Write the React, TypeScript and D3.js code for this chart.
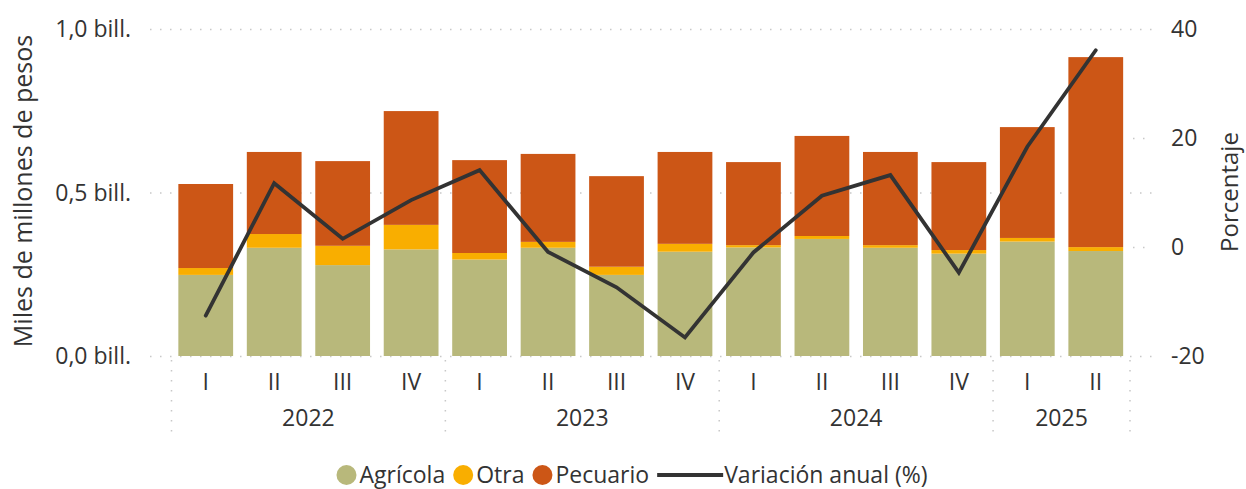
import React, { useEffect, useRef } from "react";
import * as d3 from "d3";

const years = ["2022", "2022", "2022", "2022", "2023", "2023", "2023", "2023", "2024", "2024", "2024", "2024", "2025", "2025"];
const quarters = ["I", "II", "III", "IV", "I", "II", "III", "IV", "I", "II", "III", "IV", "I", "II"];
const agricola = [0.248, 0.331, 0.278, 0.326, 0.295, 0.331, 0.248, 0.319, 0.332, 0.358, 0.331, 0.313, 0.350, 0.321];
const otra = [0.021, 0.042, 0.059, 0.075, 0.020, 0.018, 0.025, 0.024, 0.007, 0.009, 0.008, 0.011, 0.011, 0.012];
const pecuario = [0.257, 0.251, 0.259, 0.348, 0.284, 0.269, 0.277, 0.281, 0.254, 0.306, 0.285, 0.269, 0.339, 0.581];
const variacion = [-12.6, 11.7, 1.5, 8.6, 14.1, -0.9, -7.4, -16.6, -1.0, 9.4, 13.2, -4.7, 18.4, 36.1];
const leftTicks = [0, 0.5, 1.0];
const leftTickLabels = ["0,0 bill.", "0,5 bill.", "1,0 bill."];
const rightTicks = [-20, 0, 20, 40];

const seriesNames = ["Agrícola", "Otra", "Pecuario"];
const colors = ["#B8B87B", "#F9AE00", "#CC5616"];
const FONT = "'Segoe UI', 'Open Sans', sans-serif";
const TEXT = "#333333";

const App = () => {
  const svgRef = useRef<SVGSVGElement>(null);

  useEffect(() => {
    const svg = d3.select(svgRef.current);
    svg.selectAll("*").remove();

    const keys = quarters.map((q, i) => `${years[i]}-${q}-${i}`);
    const x = d3.scaleBand().domain(keys).range([171.5, 1130]).paddingInner(0.2).paddingOuter(0.1);
    const y = d3.scaleLinear().domain([0, 1]).range([356, 29]);
    const y2 = d3.scaleLinear().domain([-20, 40]).range([356, 29]);

    // gridlines (left axis)
    svg.append("g")
      .selectAll("line")
      .data(leftTicks)
      .join("line")
      .attr("x1", 150).attr("x2", 1152)
      .attr("y1", d => y(d) + 0.5).attr("y2", d => y(d) + 0.5)
      .attr("stroke", "#C8C8C8").attr("stroke-width", 1.5)
      .attr("stroke-dasharray", "1.5,8.5");

    // short stubs for right axis ticks
    svg.append("g")
      .selectAll("line")
      .data([0, 20])
      .join("line")
      .attr("x1", 1133).attr("x2", 1152)
      .attr("y1", d => y2(d) + 0.5).attr("y2", d => y2(d) + 0.5)
      .attr("stroke", "#C8C8C8").attr("stroke-width", 1.5)
      .attr("stroke-dasharray", "1.5,8.5");

    // stacked bars
    const rows = keys.map((k, i) => ({ key: k, "Agrícola": agricola[i], "Otra": otra[i], "Pecuario": pecuario[i] }));
    const stacked = d3.stack<any>().keys(seriesNames)(rows);
    svg.append("g")
      .selectAll("g")
      .data(stacked)
      .join("g")
      .attr("fill", (_, i) => colors[i])
      .selectAll("rect")
      .data(d => d)
      .join("rect")
      .attr("x", d => x(d.data.key)!)
      .attr("width", x.bandwidth())
      .attr("y", d => y(d[1]))
      .attr("height", d => y(d[0]) - y(d[1]));

    // line
    const line = d3.line<number>()
      .x((_, i) => x(keys[i])! + x.bandwidth() / 2)
      .y(d => y2(d));
    svg.append("path")
      .datum(variacion)
      .attr("fill", "none")
      .attr("stroke", "#333333")
      .attr("stroke-width", 3.8)
      .attr("stroke-linecap", "round")
      .attr("d", line);

    // left tick labels
    svg.append("g")
      .selectAll("text")
      .data(leftTicks)
      .join("text")
      .attr("x", 131).attr("y", d => y(d))
      .attr("dy", "0.35em")
      .attr("text-anchor", "end")
      .attr("font-family", FONT).attr("font-size", 23).attr("fill", TEXT)
      .text((_, i) => leftTickLabels[i]);

    // right tick labels
    svg.append("g")
      .selectAll("text")
      .data(rightTicks)
      .join("text")
      .attr("x", 1171).attr("y", d => y2(d))
      .attr("dy", "0.35em")
      .attr("font-family", FONT).attr("font-size", 23).attr("fill", TEXT)
      .text(d => String(d));

    // axis titles
    svg.append("text")
      .attr("transform", "translate(23,191) rotate(-90)")
      .attr("text-anchor", "middle").attr("dy", "0.35em")
      .attr("font-family", FONT).attr("font-size", 25).attr("fill", TEXT)
      .text("Miles de millones de pesos");
    svg.append("text")
      .attr("transform", "translate(1238,192) rotate(-90)")
      .attr("text-anchor", "middle")
      .attr("font-family", FONT).attr("font-size", 24).attr("fill", TEXT)
      .text("Porcentaje");

    // quarter labels
    svg.append("g")
      .selectAll("text")
      .data(keys)
      .join("text")
      .attr("x", d => x(d)! + x.bandwidth() / 2)
      .attr("y", 382).attr("dy", "0.35em")
      .attr("text-anchor", "middle")
      .attr("font-family", FONT).attr("font-size", 23).attr("fill", TEXT)
      .text((_, i) => quarters[i]);

    // year groups
    const yearList = Array.from(new Set(years));
    const step = x.step();
    const groups = yearList.map(yr => {
      const idx = years.map((v, i) => (v === yr ? i : -1)).filter(i => i >= 0);
      const x0 = x(keys[idx[0]])! - (step - x.bandwidth()) / 2;
      const x1 = x(keys[idx[idx.length - 1]])! + x.bandwidth() + (step - x.bandwidth()) / 2;
      return { yr, x0, x1 };
    });
    groups[0].x0 = 171.5;
    groups[groups.length - 1].x1 = 1130;

    const sepX = [groups[0].x0, ...groups.map(g => g.x1)];
    svg.append("g")
      .selectAll("line")
      .data(sepX)
      .join("line")
      .attr("x1", d => d).attr("x2", d => d)
      .attr("y1", 360).attr("y2", 440)
      .attr("stroke", "#C8C8C8").attr("stroke-width", 1.5)
      .attr("stroke-dasharray", "1.5,8.5");

    svg.append("g")
      .selectAll("text")
      .data(groups)
      .join("text")
      .attr("x", d => (d.x0 + d.x1) / 2)
      .attr("y", 418).attr("dy", "0.35em")
      .attr("text-anchor", "middle")
      .attr("font-family", FONT).attr("font-size", 23).attr("fill", TEXT)
      .text(d => d.yr);

    // legend
    const legend = svg.append("g");
    let cx = 0;
    const ly = 475;
    seriesNames.forEach((name, i) => {
      legend.append("circle").attr("cx", cx + 10).attr("cy", ly).attr("r", 10).attr("fill", colors[i]);
      const t = legend.append("text")
        .attr("x", cx + 23).attr("y", ly).attr("dy", "0.35em")
        .attr("font-family", FONT).attr("font-size", 23).attr("fill", TEXT)
        .text(name);
      cx += 23 + (t.node() as SVGTextElement).getComputedTextLength() + 8;
    });
    legend.append("line")
      .attr("x1", cx).attr("x2", cx + 66)
      .attr("y1", ly).attr("y2", ly)
      .attr("stroke", "#333333").attr("stroke-width", 3.8);
    const lt = legend.append("text")
      .attr("x", cx + 67).attr("y", ly).attr("dy", "0.35em")
      .attr("font-family", FONT).attr("font-size", 23).attr("fill", TEXT)
      .text("Variación anual (%)");
    const total = cx + 67 + (lt.node() as SVGTextElement).getComputedTextLength();
    legend.attr("transform", `translate(${632 - total / 2},0)`);
  }, []);

  return (
    <div style={{ position: "absolute", left: 0, top: 0 }}>
      <svg ref={svgRef} width={1246} height={489} style={{ display: "block" }}></svg>
    </div>
  );
};

export default App;
